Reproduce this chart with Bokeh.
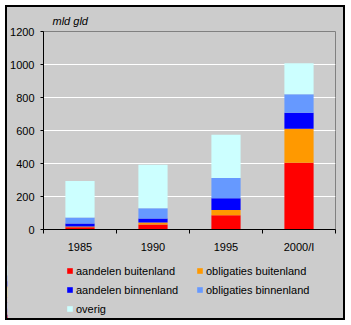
from bokeh.plotting import figure
from bokeh.layouts import column
from bokeh.models import (FixedTicker, Legend, LegendItem, ColumnDataSource, Range1d)
from bokeh.embed import file_html
from bokeh.resources import INLINE

# ---- data (mld gld) ----
years = ["1985", "1990", "1995", "2000/I"]
aandelen_buitenland = [14, 31, 86, 405]
obligaties_buitenland = [4, 12, 32, 205]
aandelen_binnenland = [19, 24, 72, 98]
obligaties_binnenland = [36, 62, 122, 112]
overig = [221, 263, 263, 188]

series_names = ["aandelen buitenland", "obligaties buitenland", "aandelen binnenland",
                "obligaties binnenland", "overig"]
series_vals = [aandelen_buitenland, obligaties_buitenland, aandelen_binnenland,
               obligaties_binnenland, overig]
colors = ["#ff0000", "#ff9900", "#0000ff", "#6699ff", "#ccffff"]
y_ticks = [0, 200, 400, 600, 800, 1000, 1200]
unit_label = "mld gld"

FONT = "Liberation Sans"
BG = "#cccccc"

centers = [i + 0.5 for i in range(len(years))]
keys = ["s%d" % i for i in range(len(series_names))]
data = {"x": centers}
for k, v in zip(keys, series_vals):
    data[k] = v
source = ColumnDataSource(data)

# ---------------- main chart ----------------
p = figure(width=336, height=248, output_backend="svg", toolbar_location=None,
           x_range=Range1d(0, len(years)), y_range=Range1d(0, 1200),
           min_border_left=36, min_border_right=8, min_border_top=24,
           min_border_bottom=25)
p.border_fill_color = BG
p.background_fill_color = BG
p.outline_line_color = "#808080"
p.outline_line_width = 1
p.frame_align = False

renderers = p.vbar_stack(keys, x="x", width=0.4, source=source, color=colors,
                         line_color=None)

p.title.text = unit_label
p.title.text_font = FONT
p.title.text_font_size = "11px"
p.title.text_font_style = "italic"
p.title.text_color = "black"
p.title.align = "left"
p.title.vertical_align = "bottom"
p.title.offset = 9
p.title.standoff = 9

xa = p.xaxis[0]
xa.ticker = FixedTicker(ticks=centers, minor_ticks=list(range(len(years) + 1)))
xa.major_label_overrides = {c: y for c, y in zip(centers, years)}
xa.major_tick_out = 0
xa.major_tick_in = 0
xa.minor_tick_out = 4
xa.minor_tick_in = 0
xa.minor_tick_line_color = "black"
xa.axis_line_color = "black"
xa.major_label_standoff = 7
xa.major_label_text_font = FONT
xa.major_label_text_font_size = "11px"
xa.major_label_text_color = "black"

ya = p.yaxis[0]
ya.ticker = FixedTicker(ticks=y_ticks)
ya.major_tick_out = 3
ya.major_tick_in = 0
ya.minor_tick_line_color = None
ya.axis_line_color = "black"
ya.major_label_standoff = 6
ya.major_label_text_font = FONT
ya.major_label_text_font_size = "11px"
ya.major_label_text_color = "black"

p.xgrid.grid_line_color = None
p.ygrid.grid_line_color = "white"
p.ygrid.grid_line_width = 1
p.ygrid.ticker = FixedTicker(ticks=y_ticks)

# ---------------- legend panel ----------------
q = figure(width=336, height=63, output_backend="svg", toolbar_location=None,
           title=None, x_range=Range1d(100, 101), y_range=Range1d(0, 1200),
           x_axis_location=None, y_axis_location=None,
           min_border_left=0, min_border_right=0, min_border_top=0,
           min_border_bottom=0)
q.frame_align = False
q.border_fill_color = BG
q.background_fill_color = BG
q.outline_line_color = None
q.grid.grid_line_color = None
q_renderers = q.vbar_stack(keys, x="x", width=0.4, source=source, color=colors,
                           line_color=None)

by_name = dict(zip(series_names, q_renderers))
order = ["aandelen buitenland", "aandelen binnenland", "overig",
         "obligaties buitenland", "obligaties binnenland"]
items = [LegendItem(label=n, renderers=[by_name[n]]) for n in order]
legend = Legend(items=items, ncols=2, location=(59, 0),
                glyph_width=7, glyph_height=7, label_standoff=3,
                label_width=120, label_height=19, spacing=0, padding=0, margin=0,
                border_line_color=None, background_fill_alpha=0,
                label_text_font=FONT, label_text_font_size="11px",
                label_text_color="black")
q.add_layout(legend, "center")

layout = column(p, q, spacing=0,
                styles={"border": "2px solid black", "margin-left": "5px",
                        "margin-top": "5px", "background-color": BG})

open("out.html", "w").write(file_html(layout, INLINE))
